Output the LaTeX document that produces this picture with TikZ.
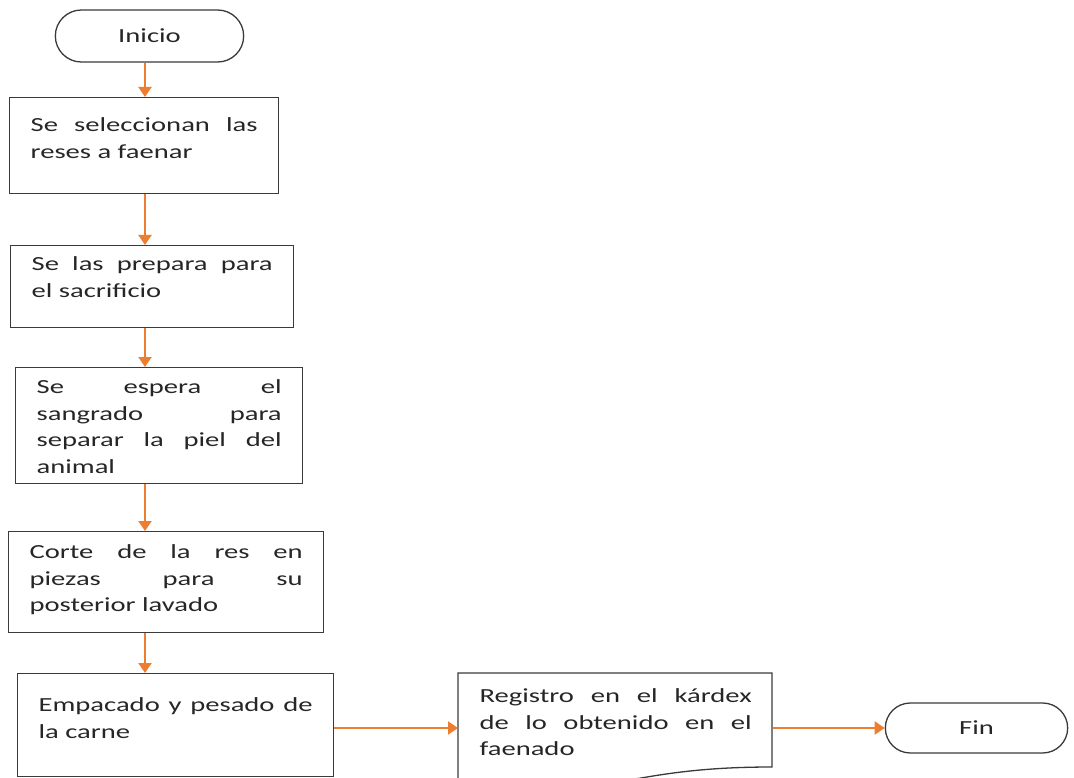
\documentclass[tikz,border=0pt]{standalone}
\usepackage{fontspec}
\setmainfont{Carlito}[FakeStretch=1.43]
\usetikzlibrary{arrows.meta,shapes.misc}
\definecolor{naranja}{HTML}{ED7D31}
\definecolor{gris}{HTML}{3A3A3A}
\definecolor{tinta}{HTML}{262626}
\newcommand{\caja}[4]{\parbox[c][#1pt][t]{#2pt}{\tolerance=10000\vspace*{\dimexpr#3pt-\ht\strutbox\relax}\leavevmode\strut#4}}
\tikzset{
  paso/.style={draw=gris, line width=1.3pt, inner xsep=21pt, inner ysep=0pt, anchor=north west, text=tinta},
  terminal/.style={draw=gris, line width=1.3pt, rounded rectangle, text=tinta},
  flecha/.style={draw=naranja, fill=naranja, line width=2pt, -{Triangle[length=10pt,width=13pt]}}
}
\begin{document}
\begin{tikzpicture}[x=1pt,y=-1pt,font=\fontsize{20}{26.5}\selectfont]
  \useasboundingbox (0,0) rectangle (1074,778);
  \coordinate (eje) at (145,0);
  \node[terminal, minimum width=195pt, minimum height=52pt] (inicio) at (149.5,36) {Inicio};
  \node[paso] (s1) at (9,97)   {\caja{96}{227}{34}{Se seleccionan las\linebreak reses a faenar}};
  \node[paso] (s2) at (10,245) {\caja{82}{241}{25}{Se las prepara para\linebreak el sacrificio}};
  \node[paso] (s3) at (15,367) {\caja{116}{245}{26}{Se espera el\linebreak sangrado para\linebreak separar la piel del\linebreak animal}};
  \node[paso] (s4) at (8,531)  {\caja{101}{273}{27}{Corte de la res en\linebreak piezas para su\linebreak posterior lavado}};
  \node[paso] (s5) at (17,673) {\caja{103}{274}{38}{Empacado y pesado de\linebreak la carne}};
  \node[paso, draw=none] (doc) at (458,673) {\caja{118.5}{272}{29}{Registro en el kárdex\linebreak de lo obtenido en el\linebreak faenado}};
  \draw[gris, line width=1.3pt] (458,673) -- (772,673) -- (772,767)
    .. controls (615,767) and (615,803) .. (458,782.7) -- cycle;
  \node[terminal, minimum width=189pt, minimum height=50pt] (fin) at (976.5,728) {Fin};
  \draw[flecha] (inicio.south -| eje) -- (s1.north -| eje);
  \draw[flecha] (s1.south -| eje) -- (s2.north -| eje);
  \draw[flecha] (s2.south -| eje) -- (s3.north -| eje);
  \draw[flecha] (s3.south -| eje) -- (s4.north -| eje);
  \draw[flecha] (s4.south -| eje) -- (s5.north -| eje);
  \draw[flecha] (s5.east |- fin.west) -- (doc.west |- fin.west);
  \draw[flecha] (doc.east |- fin.west) -- (fin.west);
\end{tikzpicture}
\end{document}
